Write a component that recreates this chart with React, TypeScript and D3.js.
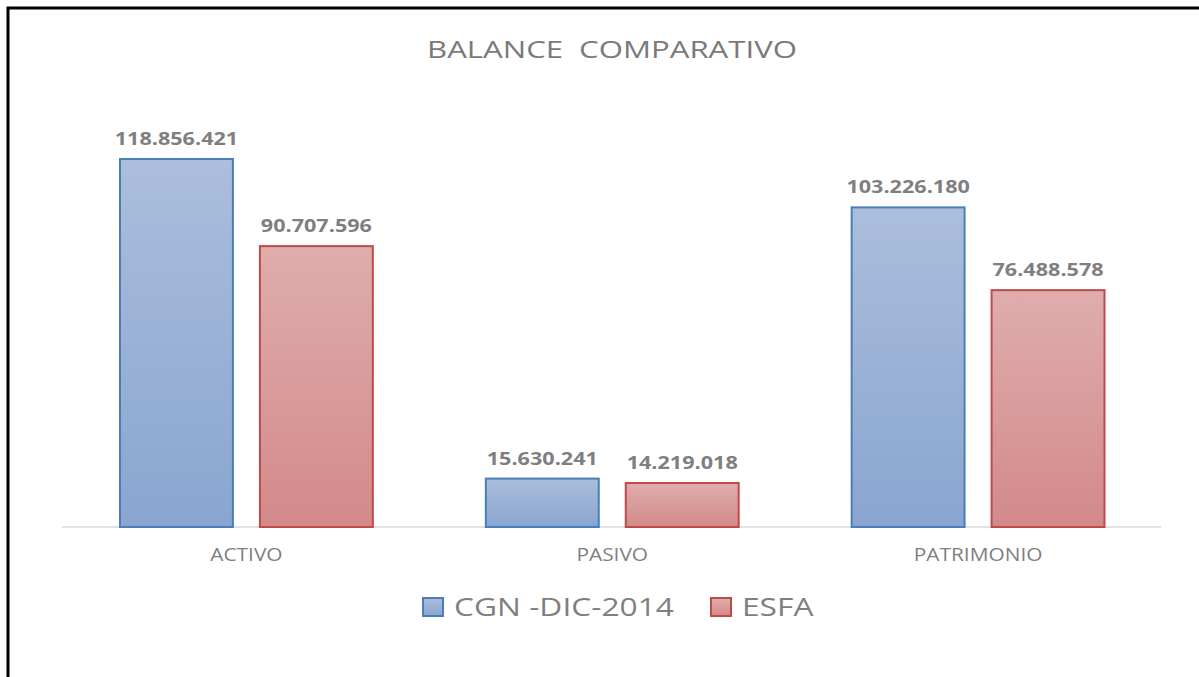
import React, { useEffect, useRef } from "react";
import { select, scaleBand, scaleLinear } from "d3";

const categories = ["ACTIVO", "PASIVO", "PATRIMONIO"];
const seriesNames = ["CGN -DIC-2014", "ESFA"];
const cgnValues = [118856421, 15630241, 103226180];
const esfaValues = [90707596, 14219018, 76488578];

const W = 1199;
const H = 677;
const FONT = "'Open Sans', 'Liberation Sans', sans-serif";

const fmt = (v: number) =>
  String(v).replace(/\B(?=(\d{3})+(?!\d))/g, ".");

// the reference image is stretched horizontally, so text gets an x-scale
function stretchedText(parent: any, x: number, y: number, sx: number, anchor: string) {
  return parent
    .append("g")
    .attr("transform", `translate(${x},${y}) scale(${sx},1)`)
    .append("text")
    .attr("text-anchor", anchor)
    .attr("font-family", FONT);
}

function App() {
  const svgRef = useRef<SVGSVGElement>(null);

  useEffect(() => {
    document.body.style.margin = "0";
    select(svgRef.current).selectAll("*").remove();
    const svg = select(svgRef.current);

    const defs = svg.append("defs");
    const grads = [
      { id: "gBlue", top: "#abbedb", bottom: "#89a5d0" },
      { id: "gRed", top: "#dfadac", bottom: "#d3898a" },
    ];
    grads.forEach((g) => {
      const lg = defs
        .append("linearGradient")
        .attr("id", g.id)
        .attr("x1", 0)
        .attr("y1", 0)
        .attr("x2", 0)
        .attr("y2", 1);
      lg.append("stop").attr("offset", "0%").attr("stop-color", g.top);
      lg.append("stop").attr("offset", "100%").attr("stop-color", g.bottom);
    });
    const fills = ["url(#gBlue)", "url(#gRed)"];
    const strokes = ["#4a7ebb", "#be4b48"];

    svg.append("rect").attr("width", W).attr("height", H).attr("fill", "#fff");
    // outer frame (right/bottom edges cut off)
    svg
      .append("rect")
      .attr("x", 8)
      .attr("y", 8)
      .attr("width", W + 20)
      .attr("height", H + 20)
      .attr("fill", "none")
      .attr("stroke", "#000")
      .attr("stroke-width", 3);

    svg
      .append("text")
      .attr("x", 427)
      .attr("y", 58)
      .attr("font-family", FONT)
      .attr("font-size", 24)
      .attr("fill", "#7a7a7a")
      .attr("textLength", 370)
      .attr("lengthAdjust", "spacingAndGlyphs")
      .attr("word-spacing", 6)
      .text("BALANCE COMPARATIVO");

    const x = scaleBand().domain(categories).range([63.5, 1161]);
    const inner = scaleBand()
      .domain(seriesNames)
      .range([56.5, x.bandwidth() - 56.5])
      .paddingInner(0.193);
    const y = scaleLinear().domain([0, 140000000]).range([527, 93.5]);

    svg
      .append("line")
      .attr("x1", 62)
      .attr("x2", 1161)
      .attr("y1", 527)
      .attr("y2", 527)
      .attr("stroke", "#d9d9d9")
      .attr("stroke-width", 1.5);

    const series = [cgnValues, esfaValues];
    series.forEach((vals, si) => {
      const g = svg.append("g");
      g.selectAll("rect")
        .data(vals)
        .enter()
        .append("rect")
        .attr("x", (d, i) => (x(categories[i]) || 0) + (inner(seriesNames[si]) || 0))
        .attr("y", (d) => y(d))
        .attr("width", inner.bandwidth())
        .attr("height", (d) => y(0) - y(d))
        .attr("fill", fills[si])
        .attr("stroke", strokes[si])
        .attr("stroke-width", 2);
      vals.forEach((d, i) => {
        const cx =
          (x(categories[i]) || 0) + (inner(seriesNames[si]) || 0) + inner.bandwidth() / 2;
        stretchedText(g, cx, y(d) - 14, 1.2, "middle")
          .attr("font-weight", "bold")
          .attr("font-size", 18)
          .attr("fill", "#7f7f7f")
          .text(fmt(d));
      });
    });

    const axisG = svg.append("g");
    categories.forEach((c) => {
      stretchedText(axisG, (x(c) || 0) + x.bandwidth() / 2, 561, 1.16, "middle")
        .attr("font-size", 18)
        .attr("fill", "#7f7f7f")
        .text(c);
    });

    // legend
    const legendX = [423, 711];
    seriesNames.forEach((name, i) => {
      svg
        .append("rect")
        .attr("x", legendX[i])
        .attr("y", 598)
        .attr("width", 20)
        .attr("height", 18)
        .attr("fill", fills[i])
        .attr("stroke", strokes[i])
        .attr("stroke-width", 2);
      stretchedText(svg, legendX[i] + 31, 616, 1.22, "start")
        .attr("font-size", 26)
        .attr("fill", "#7f7f7f")
        .text(name);
    });
  }, []);

  return <svg width={W} height={H} ref={svgRef} style={{ display: "block" }}></svg>;
}

export default App;
